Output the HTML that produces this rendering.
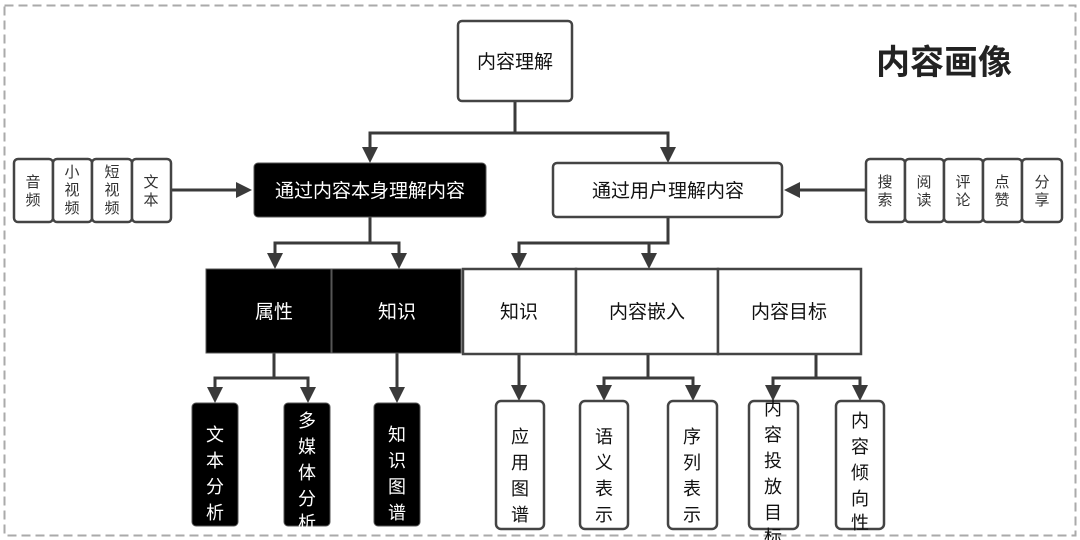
<!DOCTYPE html>
<html><head><meta charset="utf-8"><style>
html,body{margin:0;padding:0;background:#fff;}
svg{display:block;}
text{font-family:"Liberation Sans","Noto Sans CJK SC",sans-serif;}
</style></head><body>
<svg width="1080" height="540" viewBox="0 0 1080 540" xmlns="http://www.w3.org/2000/svg">
<defs>
<marker id="a" markerWidth="10" markerHeight="10" refX="9" refY="5" orient="auto" markerUnits="userSpaceOnUse">
<path d="M0,0 L10,5 L0,10 Z" fill="#3a3a3a" transform="scale(1.4) translate(-3,-1.5)"/>
</marker>
</defs>
<rect x="4.5" y="5.5" width="1071" height="530" fill="none" stroke="#aaa" stroke-width="2" stroke-dasharray="9,5"/>
<text x="944" y="74" font-size="34" font-weight="bold" text-anchor="middle" fill="#222">内容画像</text>

<g stroke="#3a3a3a" stroke-width="3" fill="none">
<!-- top -->
<path d="M515 101 V133 H370 V148"/><path d="M515 133 H668 V148"/>
<!-- inputs arrows -->
<path d="M171 190 H238"/><path d="M866 190 H798"/>
<!-- black box down -->
<path d="M370 217 V243 H275 V254"/><path d="M370 243 H399 V254"/>
<!-- right box down -->
<path d="M668 217 V243 H519 V254"/><path d="M668 243 H649 V254"/>
<!-- row bottom -->
<path d="M274 353 V378 H215 V388"/><path d="M274 378 H308 V388"/>
<path d="M397 353 V388"/>
<path d="M519 353 V386"/>
<path d="M648 353 V378 H604 V386"/><path d="M648 378 H693 V386"/>
<path d="M816 353 V378 H773 V386"/><path d="M816 378 H860 V386"/>
</g>
<g fill="#3a3a3a">
<path d="M362 147 L378 147 L370 163 Z"/><path d="M660 147 L676 147 L668 163 Z"/>
<path d="M236 182 L236 198 L252 190 Z"/><path d="M800 182 L800 198 L784 190 Z"/>
<path d="M267 253 L283 253 L275 269 Z"/><path d="M391 253 L407 253 L399 269 Z"/>
<path d="M511 253 L527 253 L519 269 Z"/><path d="M641 253 L657 253 L649 269 Z"/>
<path d="M207 387 L223 387 L215 403 Z"/><path d="M300 387 L316 387 L308 403 Z"/>
<path d="M389 387 L405 387 L397 403 Z"/>
<path d="M511 385 L527 385 L519 401 Z"/>
<path d="M596 385 L612 385 L604 401 Z"/><path d="M685 385 L701 385 L693 401 Z"/>
<path d="M765 385 L781 385 L773 401 Z"/><path d="M852 385 L868 385 L860 401 Z"/>
</g>

<g stroke="#444" stroke-width="2.5" fill="#fff">
<rect x="458" y="21" width="114" height="80" rx="4"/>
<rect x="553" y="163" width="229" height="54" rx="4"/>
<rect x="14" y="159" width="39" height="63" rx="4"/>
<rect x="53" y="159" width="39" height="63" rx="4"/>
<rect x="92" y="159" width="40" height="63" rx="4"/>
<rect x="132" y="159" width="39" height="63" rx="4"/>
<rect x="866" y="159" width="39" height="63" rx="4"/>
<rect x="905" y="159" width="39" height="63" rx="4"/>
<rect x="944" y="159" width="39" height="63" rx="4"/>
<rect x="983" y="159" width="39" height="63" rx="4"/>
<rect x="1022" y="159" width="40" height="63" rx="4"/>
<rect x="463" y="269" width="113" height="85"/>
<rect x="576" y="269" width="142" height="85"/>
<rect x="718" y="269" width="143" height="85"/>
<rect x="496" y="401" width="48" height="128" rx="5"/>
<rect x="580" y="401" width="48" height="128" rx="5"/>
<rect x="668" y="401" width="49" height="128" rx="5"/>
<rect x="749" y="401" width="49" height="128" rx="5"/>
<rect x="836" y="401" width="48" height="128" rx="5"/>
</g>
<g fill="#000" stroke="#555" stroke-width="1">
<rect x="254" y="163" width="232" height="54" rx="4"/>
<rect x="206" y="269" width="125" height="84"/>
<rect x="332" y="269" width="129" height="84"/>
<rect x="192" y="403" width="46" height="123" rx="4"/>
<rect x="284" y="403" width="46" height="123" rx="4"/>
<rect x="374" y="403" width="46" height="123" rx="4"/>
</g>

<g font-size="19" text-anchor="middle" fill="#111">
<text x="515" y="68">内容理解</text>
<text x="668" y="197">通过用户理解内容</text>
<text x="519" y="318">知识</text>
<text x="647" y="318">内容嵌入</text>
<text x="789" y="318">内容目标</text>
</g>
<g font-size="19" text-anchor="middle" fill="#fff">
<text x="370" y="197">通过内容本身理解内容</text>
<text x="274" y="318">属性</text>
<text x="397" y="318">知识</text>
</g>
<g font-size="15" text-anchor="middle" fill="#333">
<text x="33" y="187">音</text><text x="33" y="205">频</text>
<text x="72" y="177">小</text><text x="72" y="195">视</text><text x="72" y="213">频</text>
<text x="112" y="177">短</text><text x="112" y="195">视</text><text x="112" y="213">频</text>
<text x="151" y="187">文</text><text x="151" y="205">本</text>
<text x="885" y="187">搜</text><text x="885" y="205">索</text>
<text x="924" y="187">阅</text><text x="924" y="205">读</text>
<text x="963" y="187">评</text><text x="963" y="205">论</text>
<text x="1002" y="187">点</text><text x="1002" y="205">赞</text>
<text x="1042" y="187">分</text><text x="1042" y="205">享</text>
</g>
<g font-size="18" text-anchor="middle" fill="#fff">
<text x="215" y="441">文</text><text x="215" y="467">本</text><text x="215" y="493">分</text><text x="215" y="519">析</text>
<text x="307" y="427">多</text><text x="307" y="453">媒</text><text x="307" y="479">体</text><text x="307" y="505">分</text><text x="307" y="530" font-size="0">.</text>
<text x="307" y="529">析</text>
<text x="397" y="441">知</text><text x="397" y="467">识</text><text x="397" y="493">图</text><text x="397" y="519">谱</text>
</g>
<g font-size="18" text-anchor="middle" fill="#111">
<text x="520" y="443">应</text><text x="520" y="469">用</text><text x="520" y="495">图</text><text x="520" y="521">谱</text>
<text x="604" y="443">语</text><text x="604" y="469">义</text><text x="604" y="495">表</text><text x="604" y="521">示</text>
<text x="692" y="443">序</text><text x="692" y="469">列</text><text x="692" y="495">表</text><text x="692" y="521">示</text>
<text x="773" y="415">内</text><text x="773" y="441">容</text><text x="773" y="467">投</text><text x="773" y="493">放</text><text x="773" y="519">目</text><text x="773" y="543">标</text>
<text x="860" y="427">内</text><text x="860" y="453">容</text><text x="860" y="479">倾</text><text x="860" y="505">向</text><text x="860" y="530" font-size="0">.</text>
<text x="860" y="529">性</text>
</g>
</svg>
</body></html>
